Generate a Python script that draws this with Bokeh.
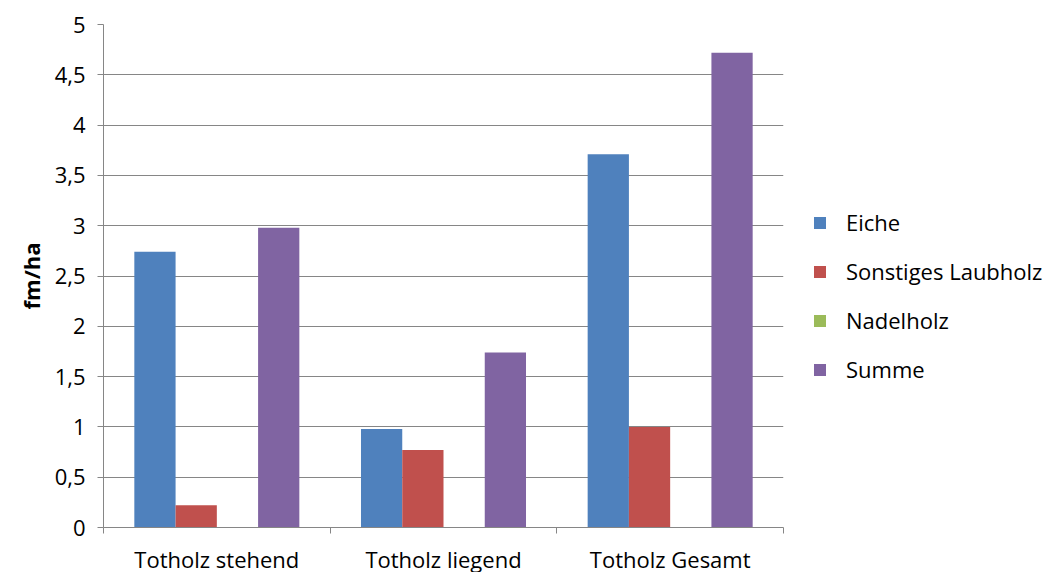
from bokeh.plotting import figure
from bokeh.models import (ColumnDataSource, Range1d, LinearAxis, FixedTicker, Legend, LegendItem)
from bokeh.transform import dodge
from bokeh.embed import file_html
from bokeh.resources import INLINE

categories = ["Totholz stehend", "Totholz liegend", "Totholz Gesamt"]
series = ["Eiche", "Sonstiges Laubholz", "Nadelholz", "Summe"]
eiche = [2.74, 0.98, 3.71]
laubholz = [0.22, 0.77, 1.00]
nadelholz = [0.0, 0.0, 0.0]
summe = [2.98, 1.74, 4.72]
colors = ["#4F81BD", "#C0504D", "#9BBB59", "#8064A2"]
y_ticks = [0, 0.5, 1, 1.5, 2, 2.5, 3, 3.5, 4, 4.5, 5]

FONT = "Open Sans"
FS = "22px"
GRID = "#868686"

n = len(categories)
centers = [i + 0.5 for i in range(n)]
src = ColumnDataSource(dict(x=centers, eiche=eiche, laubholz=laubholz,
                            nadelholz=nadelholz, summe=summe))

p = figure(frame_width=680, frame_height=503, output_backend="svg", toolbar_location=None,
           x_range=Range1d(0, n), y_range=Range1d(0, 5),
           x_axis_location=None, y_axis_location=None,
           min_border_left=103, min_border_right=261, min_border_top=24, min_border_bottom=45)
p.outline_line_color = None
p.background_fill_color = "white"

bw = 0.182
offsets = [-0.273, -0.091, 0.091, 0.273]
fields = ["eiche", "laubholz", "nadelholz", "summe"]
renderers = []
for f, off, c in zip(fields, offsets, colors):
    r = p.vbar(x=dodge("x", off), top=f, width=bw, source=src,
               fill_color=c, line_color=None)
    renderers.append(r)

# y axis
yax = LinearAxis(ticker=FixedTicker(ticks=y_ticks))
yax.major_label_overrides = {t: (str(t).replace(".", ",") if t % 1 else str(int(t))) for t in y_ticks}
yax.axis_line_color = GRID
yax.major_tick_line_color = GRID
yax.major_tick_out = 6
yax.major_tick_in = 0
yax.minor_tick_line_color = None
yax.major_label_text_font = FONT
yax.major_label_text_font_size = FS
yax.major_label_text_color = "black"
yax.major_label_standoff = 12
yax.axis_label = "fm/ha"
yax.axis_label_text_font = FONT
yax.axis_label_text_font_size = FS
yax.axis_label_text_font_style = "bold"
yax.axis_label_text_color = "black"
yax.axis_label_standoff = 6
p.add_layout(yax, "left")

# x axis: labels at category centres, tick marks at category boundaries
xax = LinearAxis(ticker=FixedTicker(ticks=centers, minor_ticks=list(range(n + 1))))
xax.major_label_overrides = {c: lab for c, lab in zip(centers, categories)}
xax.axis_line_color = GRID
xax.major_tick_line_color = None
xax.major_tick_out = 0
xax.major_tick_in = 0
xax.minor_tick_line_color = GRID
xax.minor_tick_out = 6
xax.minor_tick_in = 0
xax.major_label_text_font = FONT
xax.major_label_text_font_size = FS
xax.major_label_text_color = "black"
xax.major_label_standoff = 10
p.add_layout(xax, "below")

p.xgrid.visible = False
p.ygrid.ticker = FixedTicker(ticks=y_ticks)
p.ygrid.grid_line_color = GRID
p.ygrid.grid_line_width = 1

legend = Legend(items=[LegendItem(label=s, renderers=[r]) for s, r in zip(series, renderers)],
                location=(29, 143))
legend.border_line_color = None
legend.background_fill_alpha = 0
legend.padding = 0
legend.margin = 0
legend.glyph_width = 15
legend.glyph_height = 15
legend.label_height = 30
legend.label_standoff = 19
legend.spacing = 19
legend.label_text_font = FONT
legend.label_text_font_size = FS
legend.label_text_color = "black"
p.add_layout(legend, "right")

open("out.html", "w").write(file_html(p, INLINE))
